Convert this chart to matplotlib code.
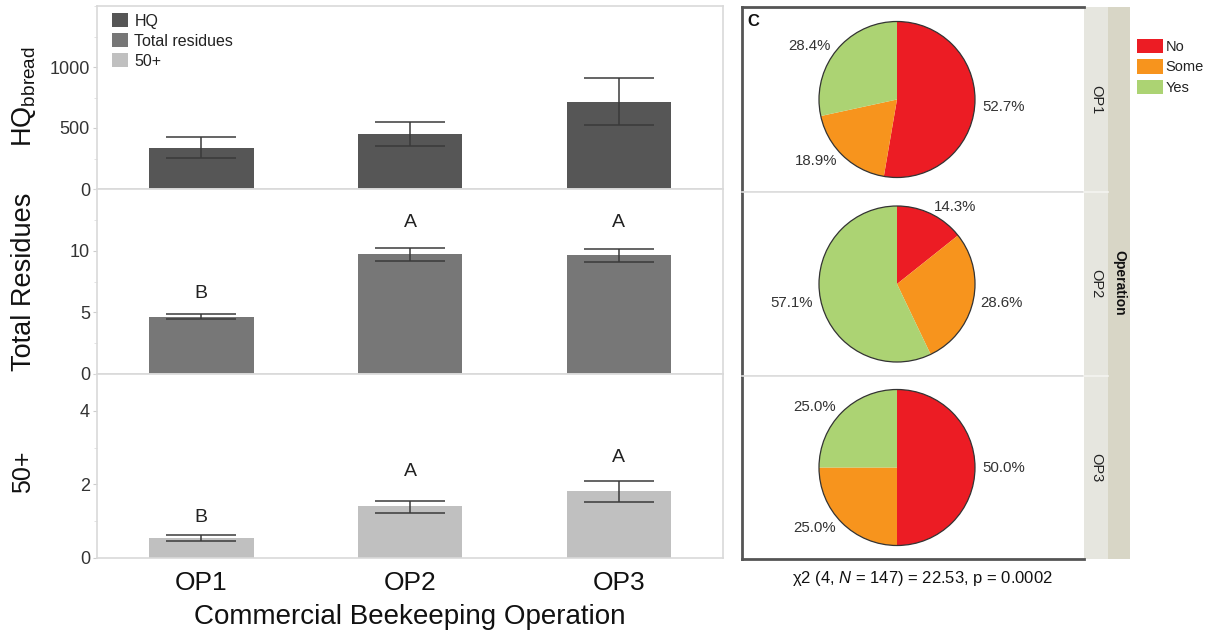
import matplotlib
matplotlib.use('Agg')
import matplotlib.pyplot as plt
import numpy as np
from matplotlib.patches import Patch, Rectangle, Circle
from matplotlib.lines import Line2D
from matplotlib.ticker import MultipleLocator

plt.rcParams['font.family'] = ['Liberation Sans', 'DejaVu Sans']
plt.rcParams['mathtext.fontset'] = 'custom'
plt.rcParams['mathtext.rm'] = 'Liberation Sans'
plt.rcParams['mathtext.it'] = 'Liberation Sans:italic'

# Figure size in pixels (dpi 100)
W, H = 1207, 636

operations = ['OP1', 'OP2', 'OP3']

# HQ of bee bread: mean and error-bar limits
hq_mean = [340, 450, 715]
hq_low = [255, 355, 522]
hq_high = [425, 547, 907]

# Total residues per sample
residue_mean = [4.65, 9.70, 9.62]
residue_low = [4.43, 9.15, 9.10]
residue_high = [4.87, 10.20, 10.15]
residue_letters = ['B', 'A', 'A']
residue_letter_y = [6.5, 12.3, 12.3]

# Residues above 50 ppb
over50_mean = [0.55, 1.42, 1.83]
over50_low = [0.47, 1.23, 1.51]
over50_high = [0.63, 1.56, 2.08]
over50_letters = ['B', 'A', 'A']
over50_letter_y = [1.1, 2.35, 2.73]

# Survey answers per operation (percent)
answers = ['No', 'Some', 'Yes']
answer_colors = ['#ec1c24', '#f7941d', '#acd373']
op1_pct = [52.7, 18.9, 28.4]
op2_pct = [14.3, 28.6, 57.1]
op3_pct = [50.0, 25.0, 25.0]

chi_text = '\u03c72 (4, $N$ = 147) = 22.53, p = 0.0002'

BAR_COLORS = ['#565656', '#777777', '#c0c0c0']
FRAME = '#d9d9d9'
TEXT = '#333333'


def frac_rect(x0, y0, x1, y1):
    """Pixel box (top-left origin) -> figure fraction rect."""
    return [x0 / W, 1 - y1 / H, (x1 - x0) / W, (y1 - y0) / H]


def fx(x):
    return x / W


def fy(y):
    return 1 - y / H


fig = plt.figure(figsize=(W / 100, H / 100), dpi=100)

# ---- left: stacked bar panels ----
LEFT, RIGHT = 97, 723
bar_panels = [
    dict(box=(6, 189), mean=hq_mean, low=hq_low, high=hq_high, ymax=1500, major=500, minor=250,
         letters=None, letter_y=None),
    dict(box=(189, 374), mean=residue_mean, low=residue_low, high=residue_high, ymax=15, major=5,
         minor=2.5, letters=residue_letters, letter_y=residue_letter_y),
    dict(box=(374, 558), mean=over50_mean, low=over50_low, high=over50_high, ymax=5, major=2,
         minor=1, letters=over50_letters, letter_y=over50_letter_y),
]

x = np.arange(len(operations))
for i, p in enumerate(bar_panels):
    top, bottom = p['box']
    ax = fig.add_axes(frac_rect(LEFT, top, RIGHT, bottom))
    mean = np.array(p['mean'])
    yerr = [mean - np.array(p['low']), np.array(p['high']) - mean]
    # capsize is the half-length of the cap in points
    ax.bar(x, mean, width=0.5, color=BAR_COLORS[i], zorder=2,
           yerr=yerr, error_kw=dict(ecolor='#3a3a3a', elinewidth=1.1, capsize=25, capthick=1.1))
    ax.set_xlim(-0.5, 2.5)
    ax.set_ylim(0, p['ymax'])
    ax.set_yticks(np.arange(0, p['ymax'], p['major']))
    ax.yaxis.set_minor_locator(MultipleLocator(p['minor']))
    for s in ax.spines.values():
        s.set_color(FRAME)
        s.set_linewidth(1.2)
    ax.tick_params(axis='y', which='major', length=3, color='#cccccc', labelsize=13,
                   labelcolor=TEXT, pad=2)
    ax.tick_params(axis='y', which='minor', length=2, color='#dddddd')
    if p['letters']:
        for xi, lt, ly in zip(x, p['letters'], p['letter_y']):
            ax.text(xi, ly, lt, ha='center', va='center', fontsize=14, color='#222222')
    ax.set_xticks(x)
    if i == len(bar_panels) - 1:
        ax.set_xticklabels(operations)
        ax.tick_params(axis='x', length=0, labelsize=19, labelcolor='#111111', pad=9)
    else:
        ax.set_xticklabels([])
        ax.tick_params(axis='x', length=0)

fig.text(fx(24), fy(97), r'HQ$_{\mathrm{bbread}}$', rotation=90, ha='center', va='center',
         fontsize=19.5, color='#111111')
fig.text(fx(24), fy(282), 'Total Residues', rotation=90, ha='center', va='center',
         fontsize=19.5, color='#111111')
fig.text(fx(23), fy(472), '50+', rotation=90, ha='center', va='center',
         fontsize=18, color='#111111')
fig.text(fx(410), fy(617), 'Commercial Beekeeping Operation', ha='center', va='center',
         fontsize=20, color='#111111')

fig.legend([Patch(facecolor=c) for c in BAR_COLORS], ['HQ', 'Total residues', '50+'],
           loc='upper left', bbox_to_anchor=(fx(112), fy(13)), frameon=False, fontsize=11.5,
           handlelength=1.0, handleheight=1.0, handletextpad=0.4, labelspacing=0.28,
           borderpad=0, borderaxespad=0, labelcolor='#222222')

# ---- right: pie facets ----
PIE_L, PIE_R = 742, 1084
PIE_CX, PIE_R_PX = 897, 78
pie_boxes = [(7, 192), (192, 376), (376, 559)]
pie_data = [op1_pct, op2_pct, op3_pct]

for i, (op, pct) in enumerate(zip(operations, pie_data)):
    top, bottom = pie_boxes[i]
    ax = fig.add_axes(frac_rect(PIE_L, top, PIE_R, bottom))
    w, h = PIE_R - PIE_L, bottom - top
    center = (PIE_CX - PIE_L, h / 2)
    wedges, labels = ax.pie(pct, colors=answer_colors, labels=[f'{v:.1f}%' for v in pct],
                            startangle=90, counterclock=False, radius=PIE_R_PX, center=center,
                            labeldistance=1.1, textprops=dict(fontsize=10.8, color=TEXT),
                            wedgeprops=dict(linewidth=0), frame=True)
    # align labels away from the pie on either side of its centre
    for t in labels:
        t.set_horizontalalignment('left' if t.get_position()[0] > center[0] else 'right')
    ax.add_patch(Circle(center, PIE_R_PX, fill=False, ec='#333333', lw=0.9))
    ax.set_xlim(0, w)
    ax.set_ylim(0, h)
    ax.set_aspect('auto')
    ax.set_xticks([])
    ax.set_yticks([])
    ax.spines['right'].set_visible(False)
    ax.spines['left'].set_color('#555555')
    ax.spines['left'].set_linewidth(2)
    for side, outer in (('top', i == 0), ('bottom', i == 2)):
        ax.spines[side].set_color('#555555' if outer else '#dddddd')
        ax.spines[side].set_linewidth(2 if outer else 1.2)

    # facet strip label
    fig.text(fx(1096), fy((top + bottom) / 2), op, rotation=-90, ha='center', va='center',
             fontsize=10.5, color='#222222')

# strips
fig.add_artist(Rectangle((fx(1084), fy(559)), (1108 - 1084) / W, (559 - 7) / H,
                         transform=fig.transFigure, fc='#e6e6df', ec='none', zorder=0))
fig.add_artist(Rectangle((fx(1108), fy(559)), (1130 - 1108) / W, (559 - 7) / H,
                         transform=fig.transFigure, fc='#d8d6c6', ec='none', zorder=0))
for yy in (192, 376):
    fig.add_artist(Line2D([fx(1084), fx(1108)], [fy(yy), fy(yy)], transform=fig.transFigure,
                          color='#f4f4f0', lw=1.2))
fig.text(fx(1119), fy(283), 'Operation', rotation=-90, ha='center', va='center',
         fontsize=10, fontweight='bold', color='#111111')

fig.text(fx(747), fy(22), 'C', ha='left', va='center', fontsize=12, fontweight='bold',
         color='#111111')

fig.legend([Patch(facecolor=c) for c in answer_colors], answers,
           loc='upper left', bbox_to_anchor=(fx(1137), fy(39)), frameon=False, fontsize=10.5,
           handlelength=1.8, handleheight=1.15, handletextpad=0.15, labelspacing=0.35,
           borderpad=0, borderaxespad=0, labelcolor='#222222')

fig.text(fx(922), fy(578), chi_text, ha='center', va='center', fontsize=12, color='#111111')

fig.savefig('out.png', dpi=100)
